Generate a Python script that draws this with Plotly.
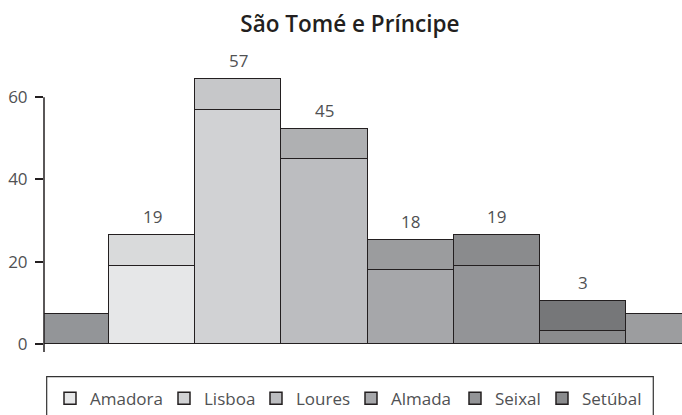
import plotly.graph_objects as go

cities = ["Amadora", "Lisboa", "Loures", "Almada", "Seixal", "Setúbal"]
lower_values = [19, 57, 45, 18, 19, 3]
upper_values = [7.4, 7.4, 7.3, 7.3, 7.4, 7.4]
edge_values = [7.3, 7.3]          # partial bars at the left and right edges
lower_colors = ["#e6e7e8", "#d1d2d4", "#bcbdc0", "#a6a7aa", "#939497", "#8a8b8d"]
upper_colors = ["#d9dadb", "#c6c7c9", "#afb0b2", "#9b9c9e", "#8a8b8d", "#767779"]
edge_colors = ["#939598", "#9c9d9f"]
legend_widths = [69, 47, 50, 59, 42, 60]
ytick_vals = [0, 20, 40, 60]
title_text = "São Tomé e Príncipe"

FONT = "Open Sans"
OUTLINE = "#231f20"
LABEL_GREY = "#505153"

positions = list(range(1, len(cities) + 1))
fig = go.Figure()

for pos, name, val, col, lw in zip(positions, cities, lower_values, lower_colors, legend_widths):
    fig.add_trace(go.Bar(
        x=[pos], y=[val], name=name, width=1, legendwidth=lw,
        marker=dict(color=col, line=dict(color=OUTLINE, width=1.5)),
        hoverinfo="skip",
    ))

upper_x = [0] + positions + [len(cities) + 1]
upper_y = [edge_values[0]] + upper_values + [edge_values[1]]
upper_c = [edge_colors[0]] + upper_colors + [edge_colors[1]]
fig.add_trace(go.Bar(
    x=upper_x, y=upper_y, width=1, showlegend=False,
    marker=dict(color=upper_c, line=dict(color=OUTLINE, width=1.5)),
    hoverinfo="skip",
))

for pos, val, up in zip(positions, lower_values, upper_values):
    fig.add_annotation(
        x=pos, y=val + up, text=str(val), showarrow=False,
        yanchor="bottom", yshift=5,
        font=dict(family=FONT, size=17, color=LABEL_GREY),
    )

# y axis line from -2 to 60
fig.add_shape(type="line", xref="paper", yref="y", x0=0, x1=0, y0=-2, y1=60,
              line=dict(color=OUTLINE, width=1.5))
# legend frame (cut by the bottom of the picture)
fig.add_shape(type="rect", xref="paper", yref="paper",
              x0=0.0042, x1=0.955, y0=-0.0808, y1=-0.5,
              line=dict(color="#333333", width=1.2), fillcolor="rgba(0,0,0,0)")

fig.update_layout(
    width=682, height=415,
    margin=dict(l=44, r=0, t=48.1, b=62.8, autoexpand=False),
    paper_bgcolor="white", plot_bgcolor="white",
    barmode="stack", bargap=0,
    title=dict(text=title_text, x=0.513, xanchor="center", xref="container",
               y=0.943, yanchor="middle", yref="container",
               font=dict(family=FONT, size=22.5, color=OUTLINE, weight=600)),
    xaxis=dict(visible=False, range=[-0.258, 7.152], fixedrange=True),
    yaxis=dict(range=[-2, 72], tickvals=ytick_vals, ticks="outside", ticklen=8,
               tickwidth=1.5, tickcolor=OUTLINE, showline=False, showgrid=False,
               zeroline=False, ticklabelstandoff=4, automargin=False, fixedrange=True,
               tickfont=dict(family=FONT, size=17, color=LABEL_GREY)),
    legend=dict(orientation="h", x=0.0094, xanchor="left", y=-0.1539, yanchor="middle",
                font=dict(family=FONT, size=17, color=LABEL_GREY),
                bgcolor="rgba(0,0,0,0)", borderwidth=0, traceorder="normal"),
    showlegend=True,
)

fig.write_html("out.html", config={"displayModeBar": False},
               post_script="document.body.style.margin='0';")
